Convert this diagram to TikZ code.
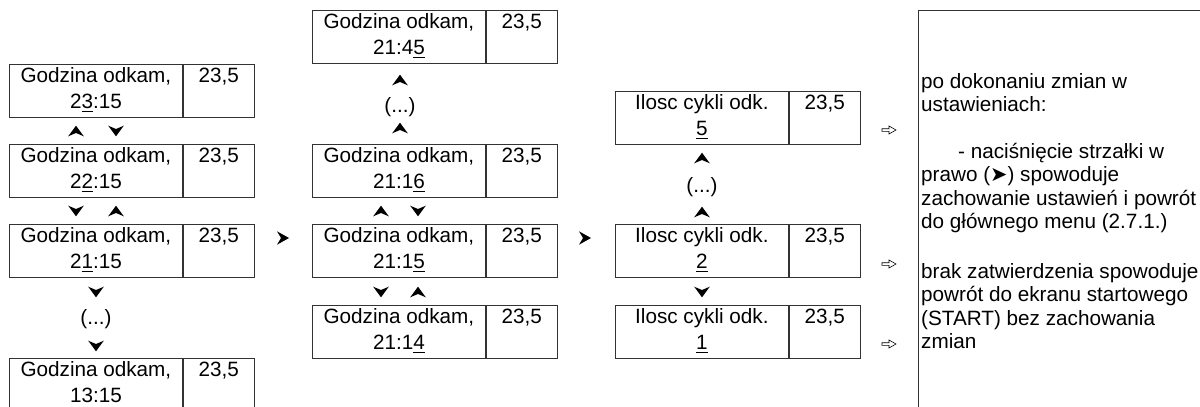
\documentclass[tikz,border=0pt]{standalone}
\usepackage{fontspec}
\setmainfont{Liberation Sans}
\newfontfamily\symfont{DejaVu Sans}
\usetikzlibrary{positioning}

\newcommand\digitline[1]{\leavevmode\vtop{\hbox{#1}\kern2pt\hrule height 0.9pt}}

\tikzset{
  cell/.style={draw=black!80, line width=0.8pt, inner sep=0pt, minimum height=53pt, align=center,
    font=\fontsize{20.7}{25.7}\selectfont,
    execute at begin node={\rule{0pt}{22pt}},
    execute at end node={\rule[-5.3pt]{0pt}{5.3pt}}},
  cellname/.style={cell, anchor=north west, minimum width=173pt},
  cellval/.style={cell, minimum width=71pt},
  dots/.style={font=\fontsize{20.7}{25.7}\selectfont, inner sep=0pt},
  notetext/.style={anchor=north west, align=left, inner sep=0pt,
    font=\fontsize{20.7}{23.3}\selectfont, execute at begin node={\rule{0pt}{16pt}}},
  tipup/.pic={\fill (0,5.3) -- (7.8,-5.3) -- (0,-2) -- (-7.8,-5.3) -- cycle;},
  tipdown/.pic={\fill (0,-5.3) -- (7.8,5.3) -- (0,2) -- (-7.8,5.3) -- cycle;},
  tipright/.pic={\fill (6,0) -- (-6,-6.7) -- (-2,0) -- (-6,6.7) -- cycle;},
  hollow/.pic={\draw[line width=0.6pt, line join=miter] (-7,-1.3) -- (0,-1.3) -- (0,-4) -- (7,0) -- (0,4) -- (0,1.3) -- (-7,1.3) -- cycle;}
}

\begin{document}
\begin{tikzpicture}[x=1pt,y=1pt,yscale=-1,xscale=1]
\useasboundingbox (0,0) rectangle (1200,407);

%Shape: hours, first column
\node[cellname] (h23) at (9,64) {Godzina odkam,\\2\digitline{3}:15};
\node[cellval, right=0pt of h23] (h23v) {23,5\\\mbox{}};
\node[cellname] (h22) at (9,144) {Godzina odkam,\\2\digitline{2}:15};
\node[cellval, right=0pt of h22] (h22v) {23,5\\\mbox{}};
\node[cellname] (h21) at (9,224) {Godzina odkam,\\2\digitline{1}:15};
\node[cellval, right=0pt of h21] (h21v) {23,5\\\mbox{}};
\node[cellname] (h13) at (9,358) {Godzina odkam,\\13:15};
\node[cellval, right=0pt of h13] (h13v) {23,5\\\mbox{}};

\pic at (76,131) {tipup};
\pic at (116,131) {tipdown};
\pic at (76,211) {tipdown};
\pic at (116,211) {tipup};
\pic at (96,292) {tipdown};
% Text Node
\node[dots] (dots1) at (96,319) {(...)};
\pic at (96,346) {tipdown};

\pic at (283,238) {tipright};

%Shape: minutes, second column
\node[cellname] (m45) at (312,10) {Godzina odkam,\\21:4\digitline{5}};
\node[cellval, right=0pt of m45] (m45v) {23,5\\\mbox{}};
\node[cellname] (m16) at (312,144) {Godzina odkam,\\21:1\digitline{6}};
\node[cellval, right=0pt of m16] (m16v) {23,5\\\mbox{}};
\node[cellname] (m15) at (312,224) {Godzina odkam,\\21:1\digitline{5}};
\node[cellval, right=0pt of m15] (m15v) {23,5\\\mbox{}};
\node[cellname] (m14) at (312,305) {Godzina odkam,\\21:1\digitline{4}};
\node[cellval, right=0pt of m14] (m14v) {23,5\\\mbox{}};

\pic at (400,80) {tipup};
% Text Node
\node[dots] (dots2) at (400,107) {(...)};
\pic at (400,128) {tipup};
\pic at (381,211) {tipup};
\pic at (418,211) {tipdown};
\pic at (381,292) {tipdown};
\pic at (418,292) {tipup};

\pic at (585,238) {tipright};

%Shape: cycles, third column
\node[cellname] (c5) at (615,91) {Ilosc cykli odk.\\\digitline{5}};
\node[cellval, right=0pt of c5] (c5v) {23,5\\\mbox{}};
\node[cellname] (c2) at (615,224) {Ilosc cykli odk.\\\digitline{2}};
\node[cellval, right=0pt of c2] (c2v) {23,5\\\mbox{}};
\node[cellname] (c1) at (615,305) {Ilosc cykli odk.\\\digitline{1}};
\node[cellval, right=0pt of c1] (c1v) {23,5\\\mbox{}};

\pic at (702,158) {tipup};
% Text Node
\node[dots] (dots3) at (702,187) {(...)};
\pic at (702,212) {tipup};
\pic at (702,292) {tipdown};

\pic at (889,130) {hollow};
\pic at (889,264) {hollow};
\pic at (889,344) {hollow};

%Shape: note frame
\node[draw=black!80, line width=0.8pt, anchor=north west, minimum width=320pt, minimum height=420pt, inner sep=0pt] (note) at (918,10) {};
% Text Node
\node[notetext] (notetxt) at (921,73) {po dokonaniu zmian w\\ustawieniach:\\[23.7pt]\hspace*{37pt}- naciśnięcie strzałki w\\prawo ({\symfont ➤}) spowoduje\\zachowanie ustawień i powrót\\do głównego menu (2.7.1.)\\[26.7pt]brak zatwierdzenia spowoduje\\powrót do ekranu startowego\\(START) bez zachowania\\zmian};

\end{tikzpicture}
\end{document}
